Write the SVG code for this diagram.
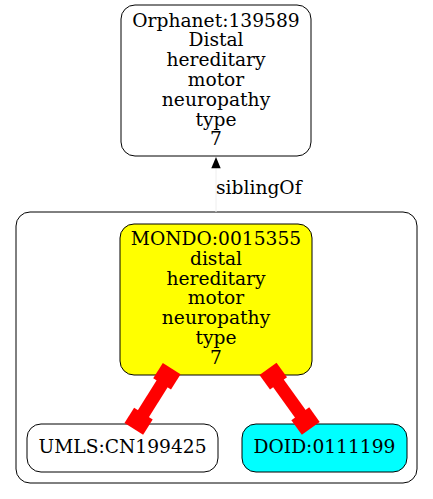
<svg xmlns="http://www.w3.org/2000/svg" width="433" height="499" viewBox="0 0 433 499">
<style>
text{font-family:"DejaVu Serif","Liberation Serif",serif;font-size:18.67px;fill:#000;text-anchor:middle}
.node{stroke:#000;stroke-width:1}
.red{fill:#ff0000}
</style>
<rect width="433" height="499" fill="#fff"/>
<g id="cluster"><rect x="16" y="212" width="401" height="271" rx="14" fill="none" stroke="#000"/></g>
<g id="orphanet">
<rect class="node" x="121" y="5" width="190" height="151" rx="14" fill="#fff"/>
<text x="216" y="26.5">Orphanet:139589</text>
<text x="216" y="46.3">Distal</text>
<text x="216" y="66.1">hereditary</text>
<text x="216" y="85.9">motor</text>
<text x="216" y="105.7">neuropathy</text>
<text x="216" y="125.5">type</text>
<text x="216" y="145.3">7</text>
</g>
<g id="mondo">
<rect class="node" x="120" y="224" width="192" height="151" rx="14" fill="#ffff00"/>
<text x="216" y="245">MONDO:0015355</text>
<text x="216" y="264.8">distal</text>
<text x="216" y="284.6">hereditary</text>
<text x="216" y="304.4">motor</text>
<text x="216" y="324.2">neuropathy</text>
<text x="216" y="344">type</text>
<text x="216" y="363.8">7</text>
</g>
<g id="umls">
<rect class="node" x="27" y="424" width="191" height="48" rx="14" fill="#fff"/>
<text x="122.5" y="452.7">UMLS:CN199425</text>
</g>
<g id="doid">
<rect class="node" x="242" y="424" width="165" height="48" rx="14" fill="#00ffff"/>
<text x="324.5" y="452.7">DOID:0111199</text>
</g>
<g id="connectors">
<line x1="216" y1="168" x2="216" y2="212" stroke="#eeeeee" stroke-width="1"/>
<polygon points="216,157 211.3,168.3 220.7,168.3" fill="#000"/>
<text x="216" y="194.3" style="text-anchor:start">siblingOf</text>
<g transform="translate(171.7,368.7) rotate(122.2)" class="red">
<rect x="0" y="-10.5" width="18" height="21"/>
<rect x="17" y="-6.5" width="38" height="13"/>
<rect x="53.1" y="-11" width="18" height="22"/>
</g>
<g transform="translate(268,368.8) rotate(54.3)" class="red">
<rect x="0" y="-10.5" width="18" height="21"/>
<rect x="17" y="-6.5" width="40" height="13"/>
<rect x="55.3" y="-11" width="18" height="22"/>
</g>
</g>
</svg>
